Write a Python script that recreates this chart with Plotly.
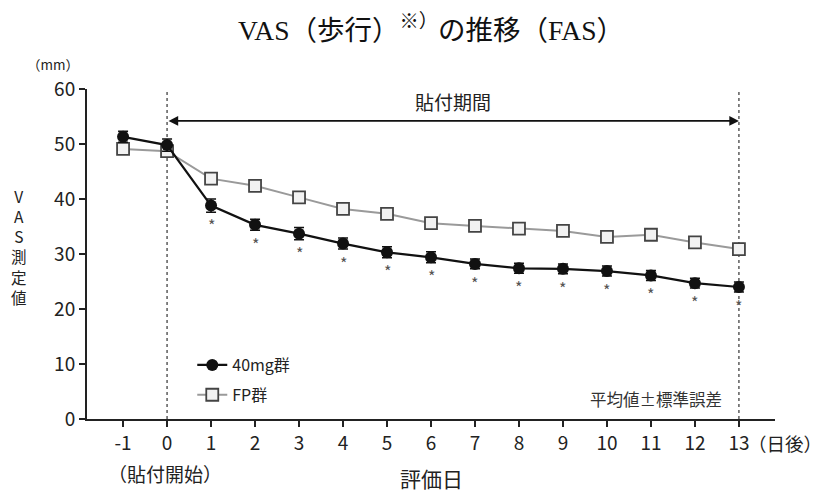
import plotly.graph_objects as go

days = [-1, 0, 1, 2, 3, 4, 5, 6, 7, 8, 9, 10, 11, 12, 13]
tick_labels = ["-1", "0", "1", "2", "3", "4", "5", "6", "7", "8", "9", "10", "11", "12", "13"]
mg40_mean = [51.3, 49.8, 38.8, 35.3, 33.7, 31.9, 30.3, 29.4, 28.2, 27.4, 27.3, 26.9, 26.1, 24.7, 24.0]
mg40_sem = [1.0, 1.1, 1.2, 1.0, 1.1, 1.0, 1.0, 1.0, 0.9, 0.9, 0.9, 0.9, 0.9, 0.9, 0.9]
fp_mean = [49.1, 48.7, 43.7, 42.4, 40.3, 38.2, 37.3, 35.6, 35.1, 34.6, 34.2, 33.1, 33.5, 32.1, 30.9]
fp_sem = [0.8, 0.9, 0.8, 0.8, 0.8, 0.8, 0.8, 0.8, 0.8, 0.8, 0.8, 0.8, 0.8, 0.9, 1.0]
star_days = [1, 2, 3, 4, 5, 6, 7, 8, 9, 10, 11, 12, 13]
period_start, period_end = 0, 13
arrow_level = 54.2
period_label_level = 57.7
ytitle_chars = ["V", "A", "S", "測", "定", "値"]

FONT = "Noto Sans CJK JP, Noto Sans, sans-serif"
INK = "#222222"

fig = go.Figure()

fig.add_trace(go.Scatter(
    x=days, y=fp_mean, name="FP群", mode="lines+markers", legendgroup="fp", legendrank=2,
    line=dict(color="#9a9a9a", width=2),
    marker=dict(symbol="square", size=12, color="#f2f2f2", line=dict(color="#444444", width=1.8)),
    error_y=dict(type="data", array=fp_sem, color="#444444", thickness=1.5, width=5),
))
fig.add_trace(go.Scatter(
    x=days, y=mg40_mean, name="40mg群", mode="lines+markers", legendgroup="mg40", legendrank=1,
    line=dict(color="#111111", width=2.2),
    marker=dict(symbol="circle", size=12, color="#111111"),
    error_y=dict(type="data", array=mg40_sem, color="#111111", thickness=1.5, width=5),
))

# dotted period lines
for d in (period_start, period_end):
    fig.add_shape(type="line", x0=d, x1=d, y0=0, y1=60, xref="x", yref="y",
                  line=dict(color="#333333", width=1.2, dash="dot"), layer="below")

# period arrow
fig.add_annotation(x=period_end, y=arrow_level, ax=period_start, ay=arrow_level,
                   xref="x", yref="y", axref="x", ayref="y", text="",
                   showarrow=True, arrowhead=2, arrowside="end+start", arrowsize=1.2,
                   arrowwidth=1.6, arrowcolor="#111111")
fig.add_annotation(x=(period_start + period_end) / 2, y=period_label_level, xref="x", yref="y",
                   text="貼付期間", showarrow=False, xanchor="center", yanchor="middle",
                   font=dict(family=FONT, size=19, color=INK))

# significance stars
for d in star_days:
    i = days.index(d)
    fig.add_annotation(x=d, y=mg40_mean[i], xref="x", yref="y", text="*", showarrow=False,
                       yshift=-19, xanchor="center", yanchor="middle",
                       font=dict(family=FONT, size=16, color="#555555"))

def note(text, x, y, size, color=INK):
    fig.add_annotation(x=x, y=y, xref="paper", yref="paper", text=text, showarrow=False,
                       xanchor="center", yanchor="middle",
                       font=dict(family=FONT, size=size, color=color))

note("（mm）", -0.05, 1.075, 13.5)
note("<br>".join(ytitle_chars), -0.099, 0.524, 15.5)
note("（貼付開始）", 0.1134, -0.164, 19)
note("（日後）", 1.0145, -0.073, 18.5)
note("評価日", 0.5, -0.179, 21)
note("平均値±標準誤差", 0.827, 0.061, 16.5, color="#333333")

fig.update_layout(
    width=814, height=484,
    margin=dict(l=79, r=47, t=81, b=73),
    paper_bgcolor="white", plot_bgcolor="white",
    title=dict(text="VAS（歩行）<sup>※）</sup>の推移（FAS）", x=0.5, xref="paper", xanchor="center",
               y=0.9545, yanchor="middle",
               font=dict(family="Liberation Serif, Noto Sans CJK JP, serif", size=27.5, color="#111111")),
    font=dict(family=FONT, color=INK),
    legend=dict(x=0.153, y=0.215, xanchor="left", yanchor="top", traceorder="grouped",
                font=dict(family=FONT, size=16, color=INK), bgcolor="rgba(0,0,0,0)",
                itemwidth=30, tracegroupgap=6),
    showlegend=True,
)
fig.update_xaxes(range=[-1.82, 13.82], tickmode="array", tickvals=days, ticktext=tick_labels,
                 showgrid=False, zeroline=False, showline=True, linecolor=INK, linewidth=2,
                 ticks="outside", ticklen=6, tickwidth=2, tickcolor=INK,
                 tickfont=dict(family=FONT, size=19, color=INK))
fig.update_yaxes(range=[0, 60], tickvals=[0, 10, 20, 30, 40, 50, 60],
                 showgrid=False, zeroline=False, showline=True, linecolor=INK, linewidth=2,
                 ticks="outside", ticklen=6, tickwidth=2, tickcolor=INK,
                 tickfont=dict(family=FONT, size=19, color=INK))

fig.write_html("out.html")
